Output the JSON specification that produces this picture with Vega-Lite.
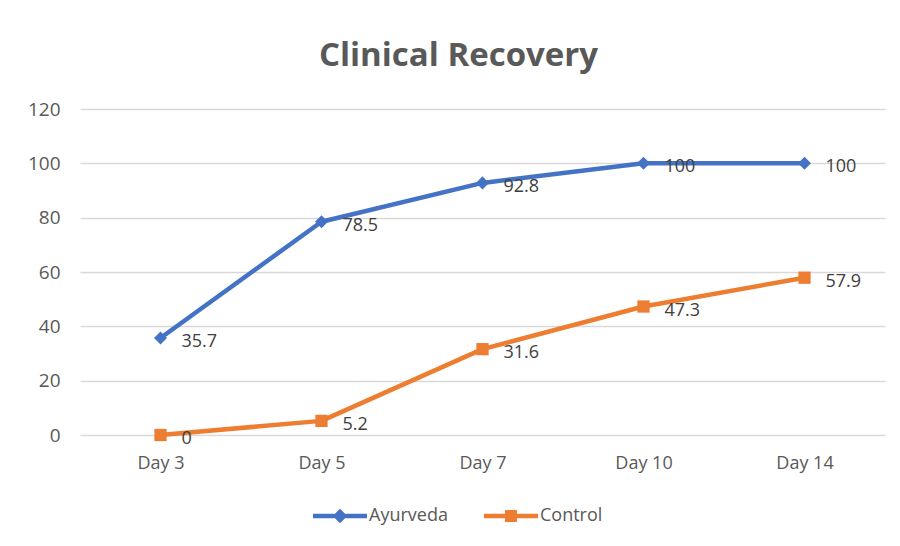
{
  "$schema": "https://vega.github.io/schema/vega-lite/v6.json",
  "autosize": {"type": "none"},
  "width": 805,
  "height": 326,
  "padding": {"left": 80, "top": 109, "right": 15, "bottom": 111},
  "background": "#ffffff",
  "title": {
    "text": "Clinical Recovery",
    "font": "Open Sans",
    "fontSize": 33,
    "fontWeight": "bold",
    "color": "#595959",
    "anchor": "middle",
    "frame": "group",
    "dx": -24,
    "baseline": "alphabetic",
    "offset": 1
  },
  "config": {
    "view": {"stroke": null},
    "font": "Open Sans"
  },
  "data": {
    "values": [
      {"day": "Day 3", "series": "Ayurveda", "value": 35.7},
      {"day": "Day 5", "series": "Ayurveda", "value": 78.5},
      {"day": "Day 7", "series": "Ayurveda", "value": 92.8},
      {"day": "Day 10", "series": "Ayurveda", "value": 100},
      {"day": "Day 14", "series": "Ayurveda", "value": 100},
      {"day": "Day 3", "series": "Control", "value": 0},
      {"day": "Day 5", "series": "Control", "value": 5.2},
      {"day": "Day 7", "series": "Control", "value": 31.6},
      {"day": "Day 10", "series": "Control", "value": 47.3},
      {"day": "Day 14", "series": "Control", "value": 57.9}
    ]
  },
  "encoding": {
    "x": {
      "field": "day",
      "type": "ordinal",
      "sort": ["Day 3", "Day 5", "Day 7", "Day 10", "Day 14"],
      "scale": {"type": "point", "padding": 0.5},
      "axis": {
        "title": null,
        "labelAngle": 0,
        "domain": false,
        "ticks": false,
        "grid": false,
        "labelFont": "Open Sans",
        "labelFontSize": 18,
        "labelColor": "#595959",
        "labelPadding": 19
      }
    },
    "y": {
      "field": "value",
      "type": "quantitative",
      "scale": {"domain": [0, 120], "nice": false},
      "axis": {
        "title": null,
        "values": [0, 20, 40, 60, 80, 100, 120],
        "domain": false,
        "ticks": false,
        "grid": true,
        "gridColor": "#d9d9d9",
        "gridWidth": 1.3,
        "labelFont": "Open Sans",
        "labelFontSize": 19,
        "labelColor": "#595959",
        "labelPadding": 20
      }
    },
    "color": {
      "field": "series",
      "type": "nominal",
      "scale": {"domain": ["Ayurveda", "Control"], "range": ["#4472C4", "#ED7D31"]}
    }
  },
  "layer": [
    {
      "mark": {"type": "line", "strokeWidth": 4.5, "strokeCap": "round", "strokeJoin": "round"}
    },
    {
      "transform": [{"filter": "datum.series === 'Ayurveda'"}],
      "mark": {"type": "point", "shape": "diamond", "filled": true, "opacity": 1, "size": 170}
    },
    {
      "transform": [{"filter": "datum.series === 'Control'"}],
      "mark": {"type": "point", "shape": "square", "filled": true, "opacity": 1, "size": 150}
    },
    {
      "mark": {"type": "point", "filled": true, "opacity": 0},
      "encoding": {
        "shape": {
          "field": "series",
          "type": "nominal",
          "scale": {
            "domain": ["Ayurveda", "Control"],
            "range": [
              "M-1,-0.085L1,-0.085L1,0.085L-1,0.085Z M0,-0.27L0.27,0L0,0.27L-0.27,0Z",
              "M-1,-0.085L1,-0.085L1,0.085L-1,0.085Z M-0.22,-0.22L0.22,-0.22L0.22,0.22L-0.22,0.22Z"
            ]
          },
          "legend": {
            "title": null,
            "orient": "none",
            "direction": "horizontal",
            "legendX": 233,
            "legendY": 380,
            "padding": 0,
            "symbolSize": 2916,
            "symbolOpacity": 1,
            "symbolStrokeWidth": 0,
            "labelFont": "Open Sans",
            "labelFontSize": 18,
            "labelColor": "#595959",
            "labelOffset": 2,
            "columnPadding": 36
          }
        },
        "color": {
          "field": "series",
          "type": "nominal",
          "legend": {
            "title": null,
            "orient": "none",
            "direction": "horizontal",
            "legendX": 233,
            "legendY": 380,
            "padding": 0,
            "symbolSize": 2916,
            "symbolOpacity": 1,
            "symbolStrokeWidth": 0,
            "labelFont": "Open Sans",
            "labelFontSize": 18,
            "labelColor": "#595959",
            "labelOffset": 2,
            "columnPadding": 36
          }
        }
      }
    },
    {
      "mark": {
        "type": "text",
        "align": "left",
        "baseline": "middle",
        "dx": 21,
        "dy": 4,
        "font": "Open Sans",
        "fontSize": 18,
        "color": "#404040"
      },
      "encoding": {
        "text": {"field": "value", "type": "quantitative"},
        "color": {"value": "#404040"}
      }
    }
  ]
}
